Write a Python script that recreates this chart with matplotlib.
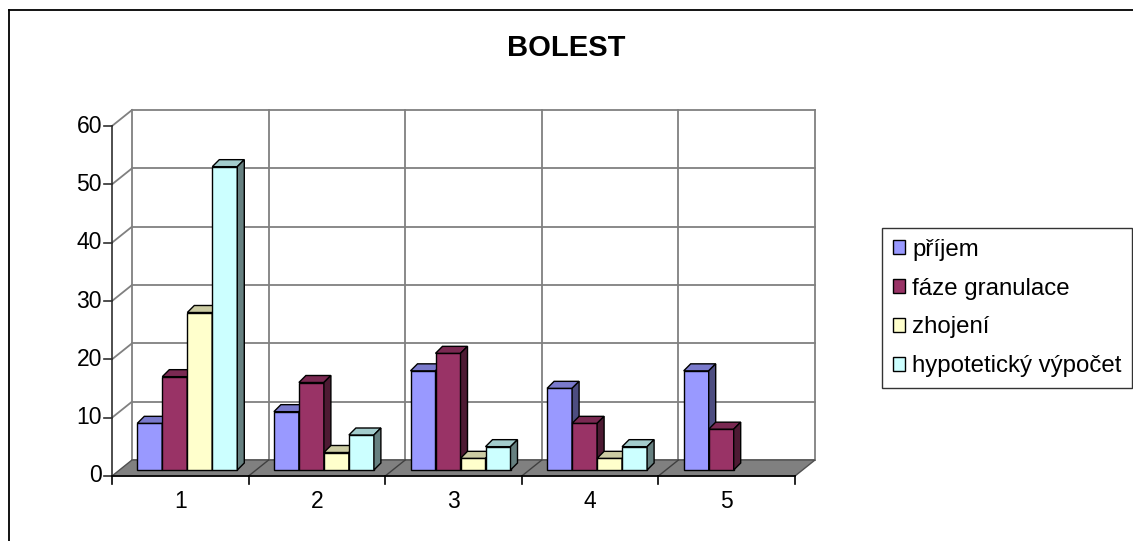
import numpy as np
import matplotlib.pyplot as plt
from matplotlib.patches import Polygon, Patch
from matplotlib.lines import Line2D
from matplotlib.colors import to_rgb

plt.rcParams['font.family'] = ['Liberation Sans', 'DejaVu Sans']

categories = ['1', '2', '3', '4', '5']
series = ['příjem', 'fáze granulace', 'zhojení', 'hypotetický výpočet']
prijem = [8, 10, 17, 14, 17]
granulace = [16, 15, 20, 8, 7]
zhojeni = [27, 3, 2, 2, 0]
vypocet = [52, 6, 4, 4, 0]
yticks = [0, 10, 20, 30, 40, 50, 60]

values = [prijem, granulace, zhojeni, vypocet]
colors = ['#9999FF', '#993366', '#FFFFCC', '#CCFFFF']


def shade(c, f):
    return tuple(v * f for v in to_rgb(c))


W, H = 1133, 541
fig = plt.figure(figsize=(W / 100, H / 100), dpi=100)

# front plane of the plot area, in pixels
x0, x1, yb, yt = 112, 795, 476, 126
ax = fig.add_axes([x0 / W, 1 - yb / H, (x1 - x0) / W, (yb - yt) / H])
ax.set_xlim(0.5, 5.5)
ax.set_ylim(0, 60)
ax.axis('off')

px_x = 5 / (x1 - x0)
px_y = 60 / (yb - yt)


def depth(dx, dy):
    return dx * px_x, dy * px_y


n = len(categories)
edges = np.arange(n + 1) + 0.5
wx, wy = depth(20, 16)
wall = '#808080'

# back wall
for v in yticks:
    ax.plot([0.5 + wx, 5.5 + wx], [v + wy, v + wy], color=wall, lw=1.3, clip_on=False, zorder=1)
for b in edges:
    ax.plot([b + wx, b + wx], [wy, 60 + wy], color=wall, lw=1.3, clip_on=False, zorder=1)

# side wall
for v in yticks[1:]:
    ax.plot([0.5, 0.5 + wx], [v, v + wy], color=wall, lw=1.3, clip_on=False, zorder=1)

# floor
ax.add_patch(Polygon([(0.5, 0), (5.5, 0), (5.5 + wx, wy), (0.5 + wx, wy)],
                     closed=True, facecolor='#808080', edgecolor='#505050', lw=1,
                     clip_on=False, zorder=1.5))
for b in edges[1:-1]:
    ax.plot([b, b + wx], [0, wy], color='#404040', lw=1, clip_on=False, zorder=1.6)

# axes lines and ticks
ax.plot([0.5, 0.5], [0, 60], color='#303030', lw=1.2, clip_on=False, zorder=2)
ax.plot([0.5, 5.5], [0, 0], color='black', lw=1.2, clip_on=False, zorder=2)
for v in yticks:
    ax.plot([0.5 - 8 * px_x, 0.5], [v, v], color='#303030', lw=1.2, clip_on=False, zorder=2)
    ax.text(0.5 - 10 * px_x, v, str(v), ha='right', va='center', fontsize=16.5)
for b in edges:
    ax.plot([b, b], [0, -8 * px_y], color='black', lw=1.2, clip_on=False, zorder=2)
for i, c in enumerate(categories):
    ax.text(i + 1, -26 * px_y, c, ha='center', va='center', fontsize=16.5)

# bars
bw = 25 * px_x
fx, fy = depth(7, 6)
bdx, bdy = depth(7, 7)
z = 3
for ci in range(n):
    for si in range(len(series)):
        h = values[si][ci]
        if h == 0:
            continue
        xl = ci + 1 + (si - 2) * bw + fx
        xr = xl + bw
        top = fy + h
        ax.bar(xl, h, width=bw, bottom=fy, align='edge', color=colors[si],
               edgecolor='black', lw=1, clip_on=False, zorder=z)
        ax.add_patch(Polygon([(xl, top), (xr, top), (xr + bdx, top + bdy), (xl + bdx, top + bdy)],
                             closed=True, facecolor=shade(colors[si], 0.8), edgecolor='black',
                             lw=1, clip_on=False, zorder=z))
        ax.add_patch(Polygon([(xr, fy), (xr + bdx, fy + bdy), (xr + bdx, top + bdy), (xr, top)],
                             closed=True, facecolor=shade(colors[si], 0.5), edgecolor='black',
                             lw=1, clip_on=False, zorder=z))
        z += 0.01

fig.text(566 / W, 1 - 48 / H, 'BOLEST', ha='center', va='center', fontsize=21, fontweight='bold')

handles = [Patch(facecolor=c, edgecolor='black', lw=1) for c in colors]
leg = fig.legend(handles, series, loc='upper left', bbox_to_anchor=(882 / W, 1 - 228 / H),
                 borderaxespad=0, frameon=True, fancybox=False, edgecolor='black',
                 handlelength=0.52, handleheight=0.52, handletextpad=0.28,
                 labelspacing=0.7, borderpad=0.45, fontsize=17.3)
leg.get_frame().set_linewidth(1)

# chart border
fig.add_artist(Line2D([8.5 / W, 8.5 / W], [0, 1 - 10 / H], color='black', lw=1.3))
fig.add_artist(Line2D([8.5 / W, 1], [1 - 10 / H, 1 - 10 / H], color='black', lw=1.3))

fig.savefig('out.png', dpi=100)
